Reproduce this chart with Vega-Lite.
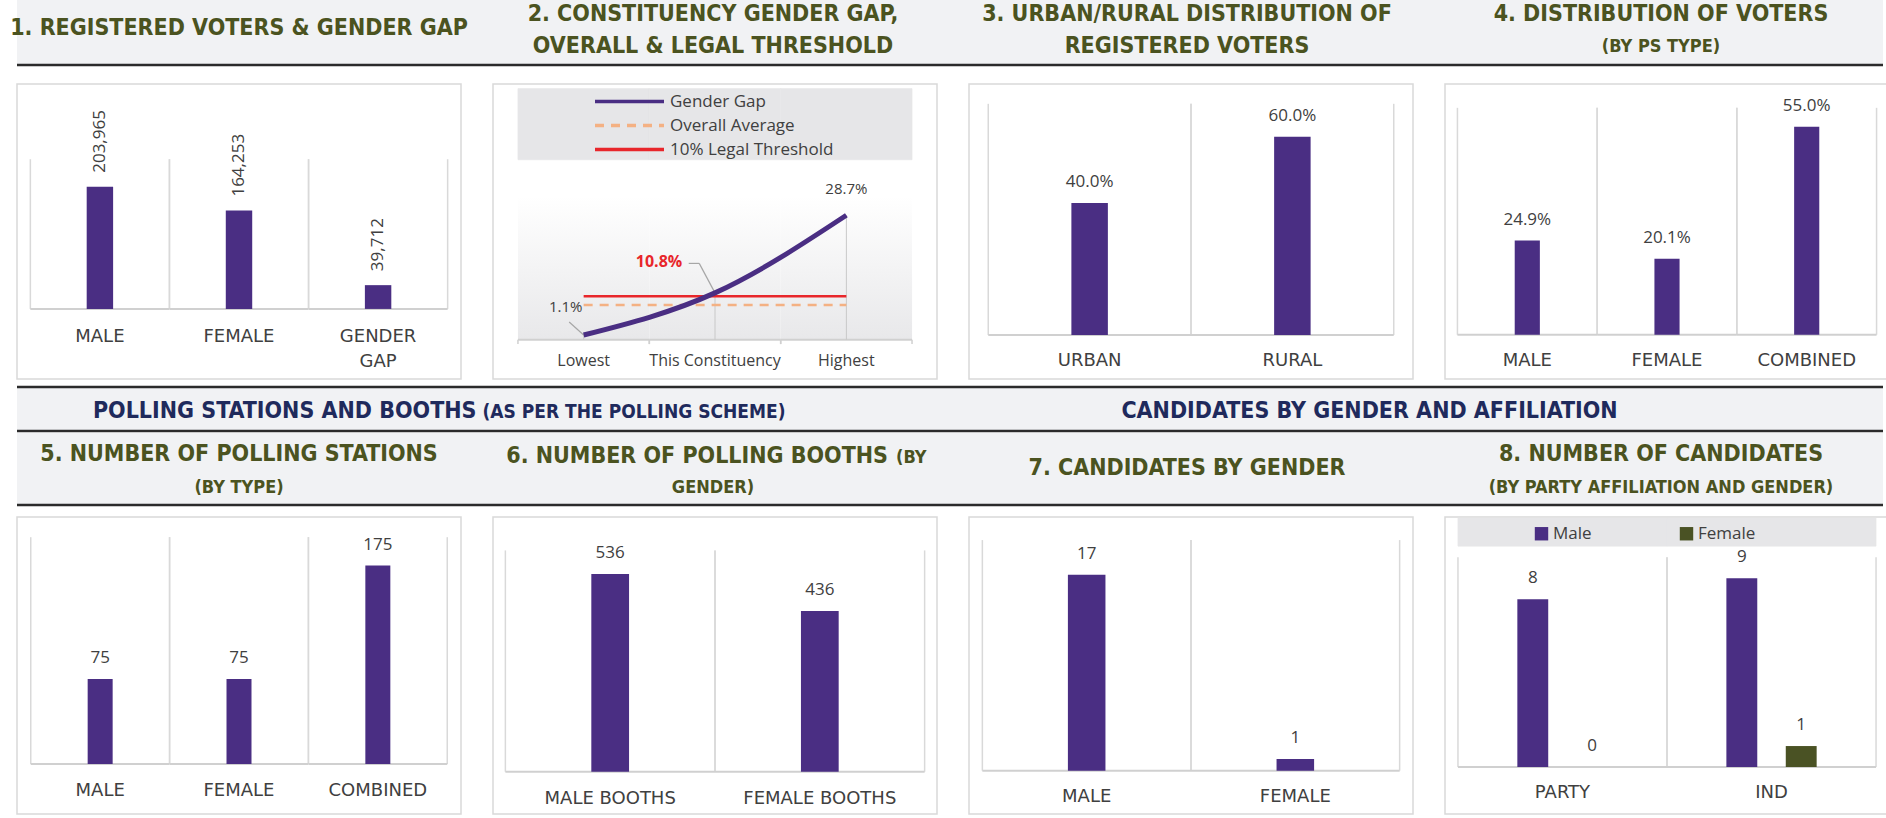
{
"$schema": "https://vega.github.io/schema/vega-lite/v6.json",
"background": "white",
"padding": {"left": 10, "top": 0, "right": 0, "bottom": 0},
"config": {
  "view": {"stroke": "#d9d9d9", "strokeWidth": 1.5, "fill": "white"},
  "axis": {"disable": true}
},
"resolve": {"scale": {"color": "independent", "strokeDash": "independent"}, "legend": {"color": "independent", "strokeDash": "independent"}},
"datasets": {
  "hA": [
    {"panel": "p1", "role": "single", "text": "1. REGISTERED VOTERS & GENDER GAP"},
    {"panel": "p2", "role": "line1", "text": "2. CONSTITUENCY GENDER GAP,"},
    {"panel": "p2", "role": "line2", "text": "OVERALL & LEGAL THRESHOLD"},
    {"panel": "p3", "role": "line1", "text": "3. URBAN/RURAL DISTRIBUTION OF"},
    {"panel": "p3", "role": "line2", "text": "REGISTERED VOTERS"},
    {"panel": "p4", "role": "line1", "text": "4. DISTRIBUTION OF VOTERS"},
    {"panel": "p4", "role": "sub", "text": "(BY PS TYPE)"}
  ],
  "hG": [
    {"grp": "g1", "role": "head", "text": "POLLING STATIONS AND BOOTHS"},
    {"grp": "g1", "role": "tail", "text": "(AS PER THE POLLING SCHEME)"},
    {"grp": "g2", "role": "head2", "text": "CANDIDATES BY GENDER AND AFFILIATION"}
  ],
  "hB": [
    {"panel": "p5", "role": "line1", "text": "5. NUMBER OF POLLING STATIONS"},
    {"panel": "p5", "role": "sub", "text": "(BY TYPE)"},
    {"panel": "p6", "role": "head", "text": "6. NUMBER OF POLLING BOOTHS"},
    {"panel": "p6", "role": "tail", "text": "(BY"},
    {"panel": "p6", "role": "sub", "text": "GENDER)"},
    {"panel": "p7", "role": "single", "text": "7. CANDIDATES BY GENDER"},
    {"panel": "p8", "role": "line1", "text": "8. NUMBER OF CANDIDATES"},
    {"panel": "p8", "role": "sub", "text": "(BY PARTY AFFILIATION AND GENDER)"}
  ]
},
"spacing": 5,
"vconcat": [
  {
    "spacing": 16,
    "resolve": {"scale": {"color": "independent", "strokeDash": "independent"}, "legend": {"color": "independent", "strokeDash": "independent"}},
    "vconcat": [
      {
        "width": 1866, "height": 65,
        "view": {"fill": "#f1f2f4", "stroke": null},
        "data": {"name": "hA"},
        "layer": [
          {"transform": [{"filter": "datum.role === 'single'"}], "mark": {"type": "rule", "color": "#2b2b2b", "strokeWidth": 2.5}, "encoding": {"y": {"datum": 0, "type": "quantitative", "scale": {"domain": [0, 1], "nice": false, "zero": false}}}},
          {"transform": [{"filter": "datum.role === 'single'"}], "mark": {"type": "text", "font": "Liberation Sans Narrow, DejaVu Sans Condensed, sans-serif", "fontSize": 23, "fontWeight": "bold", "color": "#4b5320", "align": "center", "baseline": "middle"}, "encoding": {"x": {"field": "panel", "type": "nominal", "scale": {"type": "point", "domain": ["p1", "p2", "p3", "p4"], "padding": 0.4684}}, "y": {"datum": 0.57, "type": "quantitative"}, "text": {"field": "text"}}},
          {"transform": [{"filter": "datum.role === 'line1'"}], "mark": {"type": "text", "font": "Liberation Sans Narrow, DejaVu Sans Condensed, sans-serif", "fontSize": 23, "fontWeight": "bold", "color": "#4b5320", "align": "center", "baseline": "middle"}, "encoding": {"x": {"field": "panel", "type": "nominal", "scale": {"type": "point", "domain": ["p1", "p2", "p3", "p4"], "padding": 0.4684}}, "y": {"datum": 0.79, "type": "quantitative"}, "text": {"field": "text"}}},
          {"transform": [{"filter": "datum.role === 'line2'"}], "mark": {"type": "text", "font": "Liberation Sans Narrow, DejaVu Sans Condensed, sans-serif", "fontSize": 23, "fontWeight": "bold", "color": "#4b5320", "align": "center", "baseline": "middle"}, "encoding": {"x": {"field": "panel", "type": "nominal", "scale": {"type": "point", "domain": ["p1", "p2", "p3", "p4"], "padding": 0.4684}}, "y": {"datum": 0.29, "type": "quantitative"}, "text": {"field": "text"}}},
          {"transform": [{"filter": "datum.role === 'sub'"}], "mark": {"type": "text", "font": "Liberation Sans Narrow, DejaVu Sans Condensed, sans-serif", "fontSize": 18, "fontWeight": "bold", "color": "#4b5320", "align": "center", "baseline": "middle"}, "encoding": {"x": {"field": "panel", "type": "nominal", "scale": {"type": "point", "domain": ["p1", "p2", "p3", "p4"], "padding": 0.4684}}, "y": {"datum": 0.28, "type": "quantitative"}, "text": {"field": "text"}}}
        ]
      },
      {
        "spacing": 30,
        "resolve": {"scale": {"color": "independent", "strokeDash": "independent"}, "legend": {"color": "independent", "strokeDash": "independent"}},
        "hconcat": [
          {
            "width": 444, "height": 295,
            "data": {"values": [{"cat": "MALE", "value": 203965}, {"cat": "FEMALE", "value": 164253}, {"cat": "GENDER GAP", "value": 39712}]},
            "layer": [
              {"mark": {"type": "rule", "color": "#d9d9d9", "strokeWidth": 1.5}, "encoding": {"x": {"field": "cat", "type": "nominal", "sort": null, "bandPosition": 0, "scale": {"type": "band", "paddingInner": 0, "paddingOuter": 0.096}}, "y": {"datum": 0, "type": "quantitative", "scale": {"domain": [-117000, 375600], "nice": false, "zero": false}}, "y2": {"datum": 250000}}},
              {"mark": {"type": "rule", "color": "#d9d9d9", "strokeWidth": 1.5}, "encoding": {"x": {"field": "cat", "type": "nominal", "sort": null, "bandPosition": 1, "scale": {"type": "band", "paddingInner": 0, "paddingOuter": 0.096}}, "y": {"datum": 0, "type": "quantitative"}, "y2": {"datum": 250000}}},
              {"mark": {"type": "rule", "color": "#d0d0d0", "strokeWidth": 2}, "encoding": {"x": {"field": "cat", "type": "nominal", "sort": null, "bandPosition": 0, "scale": {"type": "band", "paddingInner": 0, "paddingOuter": 0.096}}, "x2": {"field": "cat", "bandPosition": 1}, "y": {"datum": 0, "type": "quantitative"}}},
              {"mark": {"type": "bar", "color": "#4a2e83", "width": {"band": 0.19}}, "encoding": {"x": {"field": "cat", "type": "nominal", "sort": null, "scale": {"type": "band", "paddingInner": 0, "paddingOuter": 0.096}}, "y": {"field": "value", "type": "quantitative"}, "y2": {"datum": 0}}},
              {"mark": {"type": "text", "font": "Open Sans", "fontSize": 17, "color": "#404040", "angle": 270, "align": "left", "baseline": "middle", "dx": 14}, "encoding": {"x": {"field": "cat", "type": "nominal", "sort": null, "scale": {"type": "band", "paddingInner": 0, "paddingOuter": 0.096}}, "y": {"field": "value", "type": "quantitative"}, "text": {"field": "value", "type": "quantitative", "format": ","}}},
              {"mark": {"type": "text", "font": "DejaVu Sans", "fontSize": 18, "color": "#404040", "baseline": "top", "lineBreak": " ", "lineHeight": 25}, "encoding": {"x": {"field": "cat", "type": "nominal", "sort": null, "scale": {"type": "band", "paddingInner": 0, "paddingOuter": 0.096}}, "y": {"datum": -32000, "type": "quantitative"}, "text": {"field": "cat"}}}
            ]
          },
          {
            "width": 444, "height": 295,
            "data": {"values": [
              {"cat": "Lowest", "series": "Gender Gap", "value": 0.011},
              {"cat": "This Constituency", "series": "Gender Gap", "value": 0.108},
              {"cat": "Highest", "series": "Gender Gap", "value": 0.287},
              {"cat": "Lowest", "series": "Overall Average", "value": 0.08},
              {"cat": "This Constituency", "series": "Overall Average", "value": 0.08},
              {"cat": "Highest", "series": "Overall Average", "value": 0.08},
              {"cat": "Lowest", "series": "10% Legal Threshold", "value": 0.10},
              {"cat": "This Constituency", "series": "10% Legal Threshold", "value": 0.10},
              {"cat": "Highest", "series": "10% Legal Threshold", "value": 0.10}
            ]},
            "layer": [
              {"transform": [{"filter": "datum.series === 'Gender Gap'"}], "mark": {"type": "rect", "color": {"gradient": "linear", "x1": 0, "y1": 0, "x2": 0, "y2": 1, "stops": [{"offset": 0, "color": "#ffffff"}, {"offset": 1, "color": "#e8e8ea"}]}}, "encoding": {"x": {"field": "cat", "type": "nominal", "sort": ["Lowest", "This Constituency", "Highest"], "bandPosition": 0, "scale": {"type": "band", "paddingInner": 0, "paddingOuter": 0.19}}, "x2": {"field": "cat", "bandPosition": 1}, "y": {"datum": 0, "type": "quantitative", "scale": {"domain": [-0.0905, 0.5896], "nice": false, "zero": false}}, "y2": {"datum": 0.33}}},
              {"transform": [{"filter": "datum.series === 'Gender Gap'"}], "mark": {"type": "rect", "color": "#e6e6e8", "stroke": "#e6e6e8", "strokeWidth": 0.6}, "encoding": {"x": {"field": "cat", "type": "nominal", "sort": ["Lowest", "This Constituency", "Highest"], "bandPosition": 0, "scale": {"type": "band", "paddingInner": 0, "paddingOuter": 0.19}}, "x2": {"field": "cat", "bandPosition": 1}, "y": {"datum": 0.415, "type": "quantitative"}, "y2": {"datum": 0.579}}},
              {"transform": [{"filter": "datum.series === 'Gender Gap'"}], "mark": {"type": "rule", "color": "#d0d0d0", "strokeWidth": 2}, "encoding": {"x": {"field": "cat", "type": "nominal", "sort": ["Lowest", "This Constituency", "Highest"], "bandPosition": 0, "scale": {"type": "band", "paddingInner": 0, "paddingOuter": 0.19}}, "x2": {"field": "cat", "bandPosition": 1}, "y": {"datum": 0, "type": "quantitative"}}},
              {"transform": [{"filter": "datum.series === 'Gender Gap'"}], "mark": {"type": "rule", "color": "#d0d0d0", "strokeWidth": 1.5}, "encoding": {"x": {"field": "cat", "type": "nominal", "sort": ["Lowest", "This Constituency", "Highest"], "bandPosition": 0, "scale": {"type": "band", "paddingInner": 0, "paddingOuter": 0.19}}, "y": {"datum": 0, "type": "quantitative"}, "y2": {"datum": -0.01}}},
              {"transform": [{"filter": "datum.series === 'Gender Gap'"}], "mark": {"type": "rule", "color": "#d0d0d0", "strokeWidth": 1.5}, "encoding": {"x": {"field": "cat", "type": "nominal", "sort": ["Lowest", "This Constituency", "Highest"], "bandPosition": 1, "scale": {"type": "band", "paddingInner": 0, "paddingOuter": 0.19}}, "y": {"datum": 0, "type": "quantitative"}, "y2": {"datum": -0.01}}},
              {"transform": [{"filter": "datum.series === 'Gender Gap'"}], "mark": {"type": "rule", "color": "#c8c8c8", "strokeWidth": 1}, "encoding": {"x": {"field": "cat", "type": "nominal", "sort": ["Lowest", "This Constituency", "Highest"], "scale": {"type": "band", "paddingInner": 0, "paddingOuter": 0.19}}, "y": {"field": "value", "type": "quantitative"}, "y2": {"datum": 0}}},
              {"transform": [{"filter": "datum.series === 'Gender Gap' && datum.cat === 'This Constituency'"}], "mark": {"type": "rule", "color": "#a6a6a6", "strokeWidth": 1.2}, "encoding": {"x": {"field": "cat", "type": "nominal", "sort": ["Lowest", "This Constituency", "Highest"], "scale": {"type": "band", "paddingInner": 0, "paddingOuter": 0.19}}, "x2": {"field": "cat", "bandPosition": 0.38}, "y": {"field": "value", "type": "quantitative"}, "y2": {"datum": 0.176}}},
              {"transform": [{"filter": "datum.series === 'Gender Gap' && datum.cat === 'This Constituency'"}], "mark": {"type": "rule", "color": "#a6a6a6", "strokeWidth": 1.2}, "encoding": {"x": {"field": "cat", "type": "nominal", "sort": ["Lowest", "This Constituency", "Highest"], "bandPosition": 0.38, "scale": {"type": "band", "paddingInner": 0, "paddingOuter": 0.19}}, "x2": {"field": "cat", "bandPosition": 0.3}, "y": {"datum": 0.176, "type": "quantitative"}}},
              {"transform": [{"filter": "datum.series === 'Gender Gap' && datum.cat === 'Lowest'"}], "mark": {"type": "rule", "color": "#a6a6a6", "strokeWidth": 1.2}, "encoding": {"x": {"field": "cat", "type": "nominal", "sort": ["Lowest", "This Constituency", "Highest"], "scale": {"type": "band", "paddingInner": 0, "paddingOuter": 0.19}}, "x2": {"field": "cat", "bandPosition": 0.39}, "y": {"field": "value", "type": "quantitative"}, "y2": {"datum": 0.041}}},
              {"transform": [{"filter": "datum.series !== 'Gender Gap'"}], "mark": {"type": "line", "strokeWidth": 2.5}, "encoding": {
                "x": {"field": "cat", "type": "nominal", "sort": ["Lowest", "This Constituency", "Highest"], "scale": {"type": "band", "paddingInner": 0, "paddingOuter": 0.19}},
                "y": {"field": "value", "type": "quantitative"},
                "color": {"field": "series", "type": "nominal", "scale": {"domain": ["Gender Gap", "Overall Average", "10% Legal Threshold"], "range": ["#4a2e83", "#f4b183", "#e8262b"]}, "legend": {"orient": "none", "legendX": 21, "legendY": 4, "direction": "vertical", "title": null, "padding": 0, "symbolOffset": 102, "symbolType": "M-3,0H3", "symbolSize": 529, "symbolStrokeWidth": 3.5, "labelOffset": 27, "labelFont": "Open Sans", "labelFontSize": 17, "labelColor": "#404040", "labelLimit": 300, "rowPadding": 2}},
                "strokeDash": {"field": "series", "type": "nominal", "scale": {"domain": ["Gender Gap", "Overall Average", "10% Legal Threshold"], "range": [[1, 0], [9, 7], [1, 0]]}, "legend": {"orient": "none", "legendX": 21, "legendY": 4, "direction": "vertical", "title": null, "padding": 0, "symbolOffset": 102, "symbolType": "M-3,0H3", "symbolSize": 529, "symbolStrokeWidth": 3.5, "labelOffset": 27, "labelFont": "Open Sans", "labelFontSize": 17, "labelColor": "#404040", "labelLimit": 300, "rowPadding": 2}}
              }},
              {"transform": [{"filter": "datum.series === 'Gender Gap'"}], "mark": {"type": "line", "strokeWidth": 5, "interpolate": "monotone"}, "encoding": {
                "x": {"field": "cat", "type": "nominal", "sort": ["Lowest", "This Constituency", "Highest"], "scale": {"type": "band", "paddingInner": 0, "paddingOuter": 0.19}},
                "y": {"field": "value", "type": "quantitative"},
                "color": {"field": "series", "type": "nominal", "scale": {"domain": ["Gender Gap", "Overall Average", "10% Legal Threshold"], "range": ["#4a2e83", "#f4b183", "#e8262b"]}, "legend": {"orient": "none", "legendX": 21, "legendY": 4, "direction": "vertical", "title": null, "padding": 0, "symbolOffset": 102, "symbolType": "M-3,0H3", "symbolSize": 529, "symbolStrokeWidth": 3.5, "labelOffset": 27, "labelFont": "Open Sans", "labelFontSize": 17, "labelColor": "#404040", "labelLimit": 300, "rowPadding": 2}}
              }},
              {"transform": [{"filter": "datum.series === 'Gender Gap' && datum.cat === 'Lowest'"}], "mark": {"type": "text", "font": "Open Sans", "fontSize": 15, "color": "#404040", "dx": -18, "dy": -28}, "encoding": {"x": {"field": "cat", "type": "nominal", "sort": ["Lowest", "This Constituency", "Highest"], "scale": {"type": "band", "paddingInner": 0, "paddingOuter": 0.19}}, "y": {"field": "value", "type": "quantitative"}, "text": {"field": "value", "type": "quantitative", "format": ".1%"}}},
              {"transform": [{"filter": "datum.series === 'Gender Gap' && datum.cat === 'This Constituency'"}], "mark": {"type": "text", "font": "Open Sans", "fontSize": 16, "fontWeight": "bold", "color": "#e8262b", "dx": -56, "dy": -31}, "encoding": {"x": {"field": "cat", "type": "nominal", "sort": ["Lowest", "This Constituency", "Highest"], "scale": {"type": "band", "paddingInner": 0, "paddingOuter": 0.19}}, "y": {"field": "value", "type": "quantitative"}, "text": {"field": "value", "type": "quantitative", "format": ".1%"}}},
              {"transform": [{"filter": "datum.series === 'Gender Gap' && datum.cat === 'Highest'"}], "mark": {"type": "text", "font": "Open Sans", "fontSize": 15, "color": "#404040", "dy": -26}, "encoding": {"x": {"field": "cat", "type": "nominal", "sort": ["Lowest", "This Constituency", "Highest"], "scale": {"type": "band", "paddingInner": 0, "paddingOuter": 0.19}}, "y": {"field": "value", "type": "quantitative"}, "text": {"field": "value", "type": "quantitative", "format": ".1%"}}},
              {"transform": [{"filter": "datum.series === 'Gender Gap'"}], "mark": {"type": "text", "font": "Open Sans", "fontSize": 16, "color": "#404040", "baseline": "middle"}, "encoding": {"x": {"field": "cat", "type": "nominal", "sort": ["Lowest", "This Constituency", "Highest"], "scale": {"type": "band", "paddingInner": 0, "paddingOuter": 0.19}}, "y": {"datum": -0.048, "type": "quantitative"}, "text": {"field": "cat"}}}
            ]
          },
          {
            "width": 444, "height": 295,
            "data": {"values": [{"cat": "URBAN", "value": 0.4}, {"cat": "RURAL", "value": 0.6}]},
            "layer": [
              {"mark": {"type": "rule", "color": "#d9d9d9", "strokeWidth": 1.5}, "encoding": {"x": {"field": "cat", "type": "nominal", "sort": null, "bandPosition": 0, "scale": {"type": "band", "paddingInner": 0, "paddingOuter": 0.095}}, "y": {"datum": 0, "type": "quantitative", "scale": {"domain": [-0.133, 0.76], "nice": false, "zero": false}}, "y2": {"datum": 0.7}}},
              {"mark": {"type": "rule", "color": "#d9d9d9", "strokeWidth": 1.5}, "encoding": {"x": {"field": "cat", "type": "nominal", "sort": null, "bandPosition": 1, "scale": {"type": "band", "paddingInner": 0, "paddingOuter": 0.095}}, "y": {"datum": 0, "type": "quantitative"}, "y2": {"datum": 0.7}}},
              {"mark": {"type": "rule", "color": "#d0d0d0", "strokeWidth": 2}, "encoding": {"x": {"field": "cat", "type": "nominal", "sort": null, "bandPosition": 0, "scale": {"type": "band", "paddingInner": 0, "paddingOuter": 0.095}}, "x2": {"field": "cat", "bandPosition": 1}, "y": {"datum": 0, "type": "quantitative"}}},
              {"mark": {"type": "bar", "color": "#4a2e83", "width": {"band": 0.18}}, "encoding": {"x": {"field": "cat", "type": "nominal", "sort": null, "scale": {"type": "band", "paddingInner": 0, "paddingOuter": 0.095}}, "y": {"field": "value", "type": "quantitative"}, "y2": {"datum": 0}}},
              {"mark": {"type": "text", "font": "Open Sans", "fontSize": 17, "color": "#404040", "baseline": "bottom", "dy": -12}, "encoding": {"x": {"field": "cat", "type": "nominal", "sort": null, "scale": {"type": "band", "paddingInner": 0, "paddingOuter": 0.095}}, "y": {"field": "value", "type": "quantitative"}, "text": {"field": "value", "type": "quantitative", "format": ".1%"}}},
              {"mark": {"type": "text", "font": "DejaVu Sans", "fontSize": 18, "color": "#404040", "baseline": "middle"}, "encoding": {"x": {"field": "cat", "type": "nominal", "sort": null, "scale": {"type": "band", "paddingInner": 0, "paddingOuter": 0.095}}, "y": {"datum": -0.08, "type": "quantitative"}, "text": {"field": "cat"}}}
            ]
          },
          {
            "width": 444, "height": 295,
            "data": {"values": [{"cat": "MALE", "value": 0.249}, {"cat": "FEMALE", "value": 0.201}, {"cat": "COMBINED", "value": 0.55}]},
            "layer": [
              {"mark": {"type": "rule", "color": "#d9d9d9", "strokeWidth": 1.5}, "encoding": {"x": {"field": "cat", "type": "nominal", "sort": null, "bandPosition": 0, "scale": {"type": "band", "paddingInner": 0, "paddingOuter": 0.089}}, "y": {"datum": 0, "type": "quantitative", "scale": {"domain": [-0.117, 0.663], "nice": false, "zero": false}}, "y2": {"datum": 0.6}}},
              {"mark": {"type": "rule", "color": "#d9d9d9", "strokeWidth": 1.5}, "encoding": {"x": {"field": "cat", "type": "nominal", "sort": null, "bandPosition": 1, "scale": {"type": "band", "paddingInner": 0, "paddingOuter": 0.089}}, "y": {"datum": 0, "type": "quantitative"}, "y2": {"datum": 0.6}}},
              {"mark": {"type": "rule", "color": "#d0d0d0", "strokeWidth": 2}, "encoding": {"x": {"field": "cat", "type": "nominal", "sort": null, "bandPosition": 0, "scale": {"type": "band", "paddingInner": 0, "paddingOuter": 0.089}}, "x2": {"field": "cat", "bandPosition": 1}, "y": {"datum": 0, "type": "quantitative"}}},
              {"mark": {"type": "bar", "color": "#4a2e83", "width": {"band": 0.18}}, "encoding": {"x": {"field": "cat", "type": "nominal", "sort": null, "scale": {"type": "band", "paddingInner": 0, "paddingOuter": 0.089}}, "y": {"field": "value", "type": "quantitative"}, "y2": {"datum": 0}}},
              {"mark": {"type": "text", "font": "Open Sans", "fontSize": 17, "color": "#404040", "baseline": "bottom", "dy": -12}, "encoding": {"x": {"field": "cat", "type": "nominal", "sort": null, "scale": {"type": "band", "paddingInner": 0, "paddingOuter": 0.089}}, "y": {"field": "value", "type": "quantitative"}, "text": {"field": "value", "type": "quantitative", "format": ".1%"}}},
              {"mark": {"type": "text", "font": "DejaVu Sans", "fontSize": 18, "color": "#404040", "baseline": "middle"}, "encoding": {"x": {"field": "cat", "type": "nominal", "sort": null, "scale": {"type": "band", "paddingInner": 0, "paddingOuter": 0.089}}, "y": {"datum": -0.07, "type": "quantitative"}, "text": {"field": "cat"}}}
            ]
          }
        ]
      }
    ]
  },
  {
    "spacing": 9,
    "resolve": {"scale": {"color": "independent"}, "legend": {"color": "independent"}},
    "vconcat": [
      {
        "spacing": 0,
        "vconcat": [
          {
            "width": 1866, "height": 44,
            "view": {"fill": "#f1f2f4", "stroke": null},
            "data": {"name": "hG"},
            "layer": [
              {"transform": [{"filter": "datum.role === 'head2'"}], "mark": {"type": "rule", "color": "#2b2b2b", "strokeWidth": 2.5}, "encoding": {"y": {"datum": 0, "type": "quantitative", "scale": {"domain": [0, 1], "nice": false, "zero": false}}}},
              {"transform": [{"filter": "datum.role === 'head2'"}], "mark": {"type": "rule", "color": "#2b2b2b", "strokeWidth": 2.5}, "encoding": {"y": {"datum": 1, "type": "quantitative"}}},
              {"transform": [{"filter": "datum.role === 'head'"}], "mark": {"type": "text", "font": "Liberation Sans Narrow, DejaVu Sans Condensed, sans-serif", "fontSize": 23, "fontWeight": "bold", "color": "#1f2a5c", "align": "right", "baseline": "alphabetic", "dx": -7, "dy": 9}, "encoding": {"x": {"field": "grp", "type": "nominal", "scale": {"type": "point", "domain": ["g1", "g2"], "padding": 0.5}}, "y": {"datum": 0.5, "type": "quantitative"}, "text": {"field": "text"}}},
              {"transform": [{"filter": "datum.role === 'tail'"}], "mark": {"type": "text", "font": "Liberation Sans Narrow, DejaVu Sans Condensed, sans-serif", "fontSize": 19, "fontWeight": "bold", "color": "#1f2a5c", "align": "left", "baseline": "alphabetic", "dx": -1, "dy": 9}, "encoding": {"x": {"field": "grp", "type": "nominal", "scale": {"type": "point", "domain": ["g1", "g2"], "padding": 0.5}}, "y": {"datum": 0.5, "type": "quantitative"}, "text": {"field": "text"}}},
              {"transform": [{"filter": "datum.role === 'head2'"}], "mark": {"type": "text", "font": "Liberation Sans Narrow, DejaVu Sans Condensed, sans-serif", "fontSize": 23, "fontWeight": "bold", "color": "#1f2a5c", "align": "center", "baseline": "alphabetic", "dx": -47, "dy": 9}, "encoding": {"x": {"field": "grp", "type": "nominal", "scale": {"type": "point", "domain": ["g1", "g2"], "padding": 0.5}}, "y": {"datum": 0.5, "type": "quantitative"}, "text": {"field": "text"}}}
            ]
          },
          {
            "width": 1866, "height": 72,
            "view": {"fill": "#f1f2f4", "stroke": null},
            "data": {"name": "hB"},
            "layer": [
              {"transform": [{"filter": "datum.role === 'single'"}], "mark": {"type": "rule", "color": "#2b2b2b", "strokeWidth": 2.5}, "encoding": {"y": {"datum": 0, "type": "quantitative", "scale": {"domain": [0, 1], "nice": false, "zero": false}}}},
              {"transform": [{"filter": "datum.role === 'single'"}], "mark": {"type": "text", "font": "Liberation Sans Narrow, DejaVu Sans Condensed, sans-serif", "fontSize": 23, "fontWeight": "bold", "color": "#4b5320", "align": "center", "baseline": "middle"}, "encoding": {"x": {"field": "panel", "type": "nominal", "scale": {"type": "point", "domain": ["p5", "p6", "p7", "p8"], "padding": 0.4684}}, "y": {"datum": 0.51, "type": "quantitative"}, "text": {"field": "text"}}},
              {"transform": [{"filter": "datum.role === 'line1'"}], "mark": {"type": "text", "font": "Liberation Sans Narrow, DejaVu Sans Condensed, sans-serif", "fontSize": 23, "fontWeight": "bold", "color": "#4b5320", "align": "center", "baseline": "middle"}, "encoding": {"x": {"field": "panel", "type": "nominal", "scale": {"type": "point", "domain": ["p5", "p6", "p7", "p8"], "padding": 0.4684}}, "y": {"datum": 0.71, "type": "quantitative"}, "text": {"field": "text"}}},
              {"transform": [{"filter": "datum.role === 'head'"}], "mark": {"type": "text", "font": "Liberation Sans Narrow, DejaVu Sans Condensed, sans-serif", "fontSize": 23, "fontWeight": "bold", "color": "#4b5320", "align": "right", "baseline": "alphabetic", "dx": 175, "dy": 9}, "encoding": {"x": {"field": "panel", "type": "nominal", "scale": {"type": "point", "domain": ["p5", "p6", "p7", "p8"], "padding": 0.4684}}, "y": {"datum": 0.71, "type": "quantitative"}, "text": {"field": "text"}}},
              {"transform": [{"filter": "datum.role === 'tail'"}], "mark": {"type": "text", "font": "Liberation Sans Narrow, DejaVu Sans Condensed, sans-serif", "fontSize": 18, "fontWeight": "bold", "color": "#4b5320", "align": "left", "baseline": "alphabetic", "dx": 183, "dy": 9}, "encoding": {"x": {"field": "panel", "type": "nominal", "scale": {"type": "point", "domain": ["p5", "p6", "p7", "p8"], "padding": 0.4684}}, "y": {"datum": 0.71, "type": "quantitative"}, "text": {"field": "text"}}},
              {"transform": [{"filter": "datum.role === 'sub'"}], "mark": {"type": "text", "font": "Liberation Sans Narrow, DejaVu Sans Condensed, sans-serif", "fontSize": 18, "fontWeight": "bold", "color": "#4b5320", "align": "center", "baseline": "middle"}, "encoding": {"x": {"field": "panel", "type": "nominal", "scale": {"type": "point", "domain": ["p5", "p6", "p7", "p8"], "padding": 0.4684}}, "y": {"datum": 0.24, "type": "quantitative"}, "text": {"field": "text"}}}
            ]
          }
        ]
      },
      {
        "spacing": 30,
        "resolve": {"scale": {"color": "independent"}, "legend": {"color": "independent"}},
        "hconcat": [
          {
            "width": 444, "height": 297,
            "data": {"values": [{"cat": "MALE", "value": 75}, {"cat": "FEMALE", "value": 75}, {"cat": "COMBINED", "value": 175}]},
            "layer": [
              {"mark": {"type": "rule", "color": "#d9d9d9", "strokeWidth": 1.5}, "encoding": {"x": {"field": "cat", "type": "nominal", "sort": null, "bandPosition": 0, "scale": {"type": "band", "paddingInner": 0, "paddingOuter": 0.099}}, "y": {"datum": 0, "type": "quantitative", "scale": {"domain": [-44.1, 217.8], "nice": false, "zero": false}}, "y2": {"datum": 200}}},
              {"mark": {"type": "rule", "color": "#d9d9d9", "strokeWidth": 1.5}, "encoding": {"x": {"field": "cat", "type": "nominal", "sort": null, "bandPosition": 1, "scale": {"type": "band", "paddingInner": 0, "paddingOuter": 0.099}}, "y": {"datum": 0, "type": "quantitative"}, "y2": {"datum": 200}}},
              {"mark": {"type": "rule", "color": "#d0d0d0", "strokeWidth": 2}, "encoding": {"x": {"field": "cat", "type": "nominal", "sort": null, "bandPosition": 0, "scale": {"type": "band", "paddingInner": 0, "paddingOuter": 0.099}}, "x2": {"field": "cat", "bandPosition": 1}, "y": {"datum": 0, "type": "quantitative"}}},
              {"mark": {"type": "bar", "color": "#4a2e83", "width": {"band": 0.18}}, "encoding": {"x": {"field": "cat", "type": "nominal", "sort": null, "scale": {"type": "band", "paddingInner": 0, "paddingOuter": 0.099}}, "y": {"field": "value", "type": "quantitative"}, "y2": {"datum": 0}}},
              {"mark": {"type": "text", "font": "Open Sans", "fontSize": 17, "color": "#404040", "baseline": "bottom", "dy": -12}, "encoding": {"x": {"field": "cat", "type": "nominal", "sort": null, "scale": {"type": "band", "paddingInner": 0, "paddingOuter": 0.099}}, "y": {"field": "value", "type": "quantitative"}, "text": {"field": "value", "type": "quantitative"}}},
              {"mark": {"type": "text", "font": "DejaVu Sans", "fontSize": 18, "color": "#404040", "baseline": "middle"}, "encoding": {"x": {"field": "cat", "type": "nominal", "sort": null, "scale": {"type": "band", "paddingInner": 0, "paddingOuter": 0.099}}, "y": {"datum": -24, "type": "quantitative"}, "text": {"field": "cat"}}}
            ]
          },
          {
            "width": 444, "height": 297,
            "data": {"values": [{"cat": "MALE BOOTHS", "value": 536}, {"cat": "FEMALE BOOTHS", "value": 436}]},
            "layer": [
              {"mark": {"type": "rule", "color": "#d9d9d9", "strokeWidth": 1.5}, "encoding": {"x": {"field": "cat", "type": "nominal", "sort": null, "bandPosition": 0, "scale": {"type": "band", "paddingInner": 0, "paddingOuter": 0.059}}, "y": {"datum": 0, "type": "quantitative", "scale": {"domain": [-114.7, 690.6], "nice": false, "zero": false}}, "y2": {"datum": 600}}},
              {"mark": {"type": "rule", "color": "#d9d9d9", "strokeWidth": 1.5}, "encoding": {"x": {"field": "cat", "type": "nominal", "sort": null, "bandPosition": 1, "scale": {"type": "band", "paddingInner": 0, "paddingOuter": 0.059}}, "y": {"datum": 0, "type": "quantitative"}, "y2": {"datum": 600}}},
              {"mark": {"type": "rule", "color": "#d0d0d0", "strokeWidth": 2}, "encoding": {"x": {"field": "cat", "type": "nominal", "sort": null, "bandPosition": 0, "scale": {"type": "band", "paddingInner": 0, "paddingOuter": 0.059}}, "x2": {"field": "cat", "bandPosition": 1}, "y": {"datum": 0, "type": "quantitative"}}},
              {"mark": {"type": "bar", "color": "#4a2e83", "width": {"band": 0.18}}, "encoding": {"x": {"field": "cat", "type": "nominal", "sort": null, "scale": {"type": "band", "paddingInner": 0, "paddingOuter": 0.059}}, "y": {"field": "value", "type": "quantitative"}, "y2": {"datum": 0}}},
              {"mark": {"type": "text", "font": "Open Sans", "fontSize": 17, "color": "#404040", "baseline": "bottom", "dy": -12}, "encoding": {"x": {"field": "cat", "type": "nominal", "sort": null, "scale": {"type": "band", "paddingInner": 0, "paddingOuter": 0.059}}, "y": {"field": "value", "type": "quantitative"}, "text": {"field": "value", "type": "quantitative"}}},
              {"mark": {"type": "text", "font": "DejaVu Sans", "fontSize": 18, "color": "#404040", "baseline": "middle"}, "encoding": {"x": {"field": "cat", "type": "nominal", "sort": null, "scale": {"type": "band", "paddingInner": 0, "paddingOuter": 0.059}}, "y": {"datum": -74, "type": "quantitative"}, "text": {"field": "cat"}}}
            ]
          },
          {
            "width": 444, "height": 297,
            "data": {"values": [{"cat": "MALE", "value": 17}, {"cat": "FEMALE", "value": 1}]},
            "layer": [
              {"mark": {"type": "rule", "color": "#d9d9d9", "strokeWidth": 1.5}, "encoding": {"x": {"field": "cat", "type": "nominal", "sort": null, "bandPosition": 0, "scale": {"type": "band", "paddingInner": 0, "paddingOuter": 0.064}}, "y": {"datum": 0, "type": "quantitative", "scale": {"domain": [-3.76, 22.0], "nice": false, "zero": false}}, "y2": {"datum": 20}}},
              {"mark": {"type": "rule", "color": "#d9d9d9", "strokeWidth": 1.5}, "encoding": {"x": {"field": "cat", "type": "nominal", "sort": null, "bandPosition": 1, "scale": {"type": "band", "paddingInner": 0, "paddingOuter": 0.064}}, "y": {"datum": 0, "type": "quantitative"}, "y2": {"datum": 20}}},
              {"mark": {"type": "rule", "color": "#d0d0d0", "strokeWidth": 2}, "encoding": {"x": {"field": "cat", "type": "nominal", "sort": null, "bandPosition": 0, "scale": {"type": "band", "paddingInner": 0, "paddingOuter": 0.064}}, "x2": {"field": "cat", "bandPosition": 1}, "y": {"datum": 0, "type": "quantitative"}}},
              {"mark": {"type": "bar", "color": "#4a2e83", "width": {"band": 0.18}}, "encoding": {"x": {"field": "cat", "type": "nominal", "sort": null, "scale": {"type": "band", "paddingInner": 0, "paddingOuter": 0.064}}, "y": {"field": "value", "type": "quantitative"}, "y2": {"datum": 0}}},
              {"mark": {"type": "text", "font": "Open Sans", "fontSize": 17, "color": "#404040", "baseline": "bottom", "dy": -12}, "encoding": {"x": {"field": "cat", "type": "nominal", "sort": null, "scale": {"type": "band", "paddingInner": 0, "paddingOuter": 0.064}}, "y": {"field": "value", "type": "quantitative"}, "text": {"field": "value", "type": "quantitative"}}},
              {"mark": {"type": "text", "font": "DejaVu Sans", "fontSize": 18, "color": "#404040", "baseline": "middle"}, "encoding": {"x": {"field": "cat", "type": "nominal", "sort": null, "scale": {"type": "band", "paddingInner": 0, "paddingOuter": 0.064}}, "y": {"datum": -2.27, "type": "quantitative"}, "text": {"field": "cat"}}}
            ]
          },
          {
            "width": 444, "height": 297,
            "data": {"values": [{"aff": "PARTY", "gender": "Male", "value": 8}, {"aff": "PARTY", "gender": "Female", "value": 0}, {"aff": "IND", "gender": "Male", "value": 9}, {"aff": "IND", "gender": "Female", "value": 1}]},
            "layer": [
              {"transform": [{"filter": "datum.gender === 'Male'"}], "mark": {"type": "rect", "color": "#e6e6e8", "stroke": "#e6e6e8", "strokeWidth": 0.6}, "encoding": {"x": {"field": "aff", "type": "nominal", "sort": null, "bandPosition": 0, "scale": {"type": "band", "paddingInner": 0, "paddingOuter": 0.062}}, "x2": {"field": "aff", "bandPosition": 1}, "y": {"datum": 10.53, "type": "quantitative", "scale": {"domain": [-2.24, 11.92], "nice": false, "zero": false}}, "y2": {"datum": 11.87}}},
              {"transform": [{"filter": "datum.gender === 'Male'"}], "mark": {"type": "rule", "color": "#d9d9d9", "strokeWidth": 1.5}, "encoding": {"x": {"field": "aff", "type": "nominal", "sort": null, "bandPosition": 0, "scale": {"type": "band", "paddingInner": 0, "paddingOuter": 0.062}}, "y": {"datum": 0, "type": "quantitative"}, "y2": {"datum": 10}}},
              {"transform": [{"filter": "datum.gender === 'Male'"}], "mark": {"type": "rule", "color": "#d9d9d9", "strokeWidth": 1.5}, "encoding": {"x": {"field": "aff", "type": "nominal", "sort": null, "bandPosition": 1, "scale": {"type": "band", "paddingInner": 0, "paddingOuter": 0.062}}, "y": {"datum": 0, "type": "quantitative"}, "y2": {"datum": 10}}},
              {"transform": [{"filter": "datum.gender === 'Male'"}], "mark": {"type": "rule", "color": "#d0d0d0", "strokeWidth": 2}, "encoding": {"x": {"field": "aff", "type": "nominal", "sort": null, "bandPosition": 0, "scale": {"type": "band", "paddingInner": 0, "paddingOuter": 0.062}}, "x2": {"field": "aff", "bandPosition": 1}, "y": {"datum": 0, "type": "quantitative"}}},
              {"mark": {"type": "bar"}, "encoding": {
                "x": {"field": "aff", "type": "nominal", "sort": null, "scale": {"type": "band", "paddingInner": 0, "paddingOuter": 0.062}},
                "xOffset": {"field": "gender", "type": "nominal", "sort": ["Male", "Female"], "scale": {"paddingInner": 0.48, "paddingOuter": 1.16}},
                "y": {"field": "value", "type": "quantitative"}, "y2": {"datum": 0},
                "color": {"field": "gender", "type": "nominal", "scale": {"domain": ["Male", "Female"], "range": ["#4a2e83", "#4a5224"]}, "legend": {"orient": "none", "legendX": 22, "legendY": 8, "direction": "horizontal", "title": null, "padding": 0, "symbolOffset": 66, "symbolType": "square", "symbolSize": 180, "symbolStrokeWidth": 0, "labelFont": "Open Sans", "labelFontSize": 17, "labelColor": "#404040", "labelOffset": 3, "columnPadding": 20}}
              }},
              {"mark": {"type": "text", "font": "Open Sans", "fontSize": 17, "color": "#404040", "baseline": "bottom", "dy": -12}, "encoding": {
                "x": {"field": "aff", "type": "nominal", "sort": null, "scale": {"type": "band", "paddingInner": 0, "paddingOuter": 0.062}},
                "xOffset": {"field": "gender", "type": "nominal", "sort": ["Male", "Female"], "scale": {"paddingInner": 0.48, "paddingOuter": 1.16}},
                "y": {"field": "value", "type": "quantitative"}, "text": {"field": "value", "type": "quantitative"}}},
              {"transform": [{"filter": "datum.gender === 'Male'"}], "mark": {"type": "text", "font": "DejaVu Sans", "fontSize": 18, "color": "#404040", "baseline": "middle"}, "encoding": {"x": {"field": "aff", "type": "nominal", "sort": null, "scale": {"type": "band", "paddingInner": 0, "paddingOuter": 0.062}}, "y": {"datum": -1.25, "type": "quantitative"}, "text": {"field": "aff"}}}
            ]
          }
        ]
      }
    ]
  }
]
}
